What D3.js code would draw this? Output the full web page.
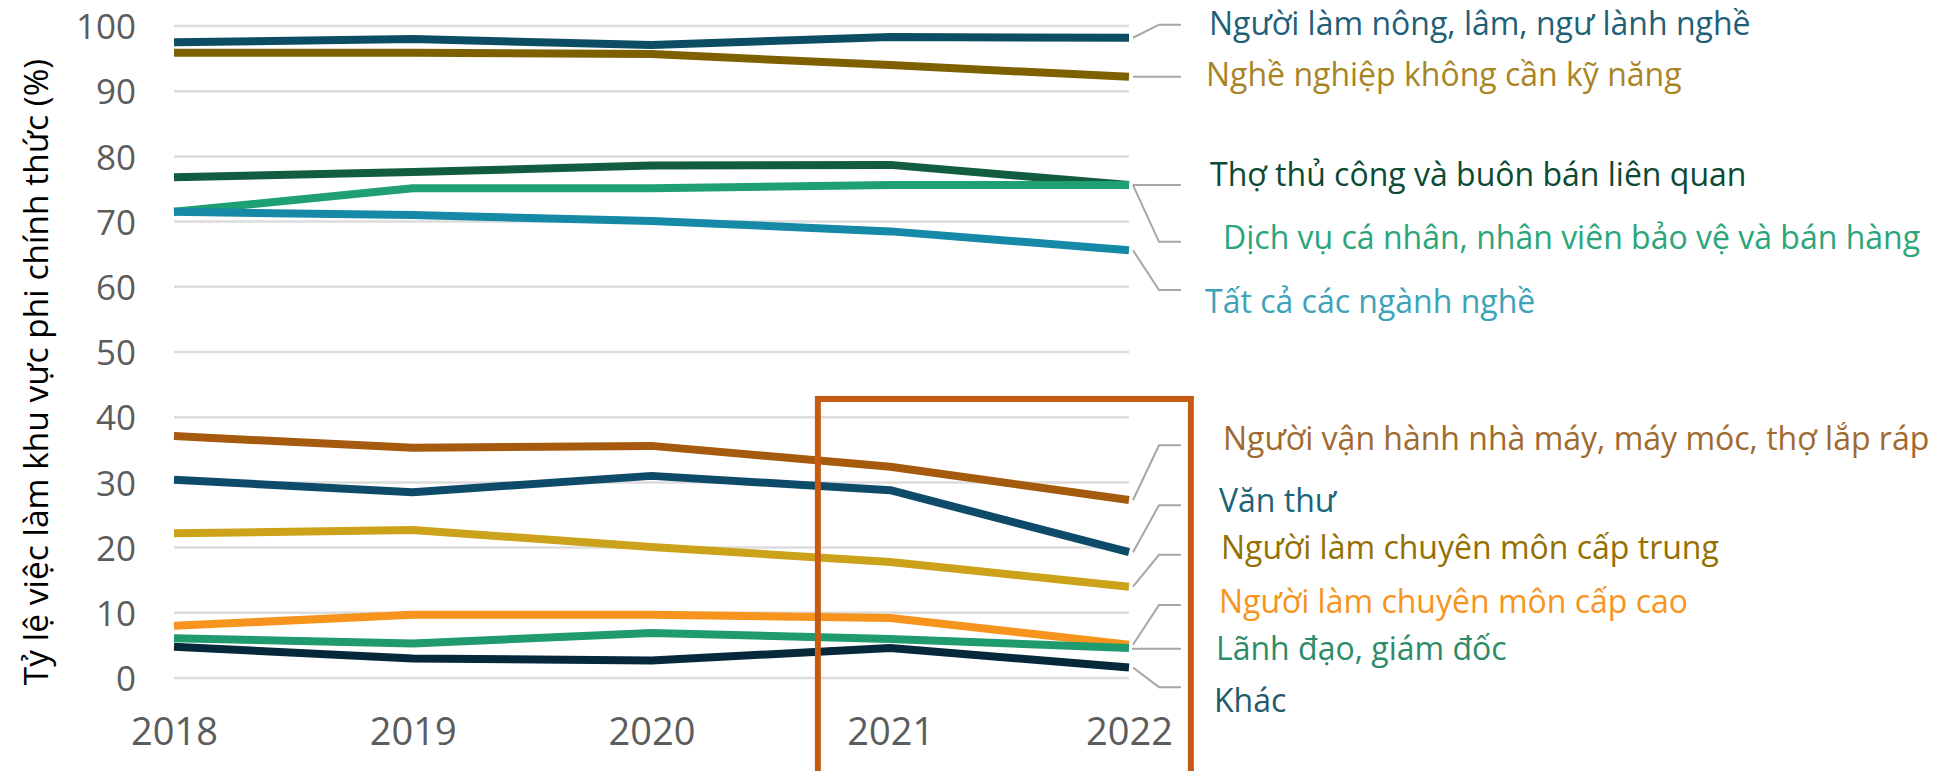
<!DOCTYPE html>
<html>
<head>
<meta charset="utf-8">
<script src="https://cdn.jsdelivr.net/npm/d3@7"></script>
<style>
  html, body { margin: 0; padding: 0; background: #fff; }
  svg { display: block; }
  text { font-family: "Open Sans", "Noto Sans", sans-serif; }
</style>
</head>
<body>
<div id="chart"></div>
<script>
// năm
const years = [2018, 2019, 2020, 2021, 2022];

// tên nhóm nghề (theo thứ tự nhãn bên phải)
const series = [
    'Người làm nông, lâm, ngư lành nghề',
    'Nghề nghiệp không cần kỹ năng',
    'Thợ thủ công và buôn bán liên quan',
    'Dịch vụ cá nhân, nhân viên bảo vệ và bán hàng',
    'Tất cả các ngành nghề',
    'Người vận hành nhà máy, máy móc, thợ lắp ráp',
    'Văn thư',
    'Người làm chuyên môn cấp trung',
    'Người làm chuyên môn cấp cao',
    'Lãnh đạo, giám đốc',
    'Khác'
];

// tỷ lệ việc làm phi chính thức (%), 2018 -> 2022
const nongLamNgu   = [97.5, 98.0, 97.1, 98.3, 98.2];
const khongKyNang  = [95.9, 95.9, 95.7, 94.0, 92.2];
const thoThuCong   = [76.8, 77.6, 78.6, 78.7, 75.6];
const dichVu       = [71.5, 75.1, 75.1, 75.6, 75.6];
const tatCa        = [71.5, 71.0, 70.1, 68.5, 65.6];
const vanHanh      = [37.1, 35.3, 35.6, 32.4, 27.3];
const vanThu       = [30.4, 28.5, 31.0, 28.8, 19.3];
const capTrung     = [22.2, 22.7, 20.1, 17.8, 14.0];
const capCao       = [ 8.0,  9.7,  9.7,  9.2,  5.1];
const lanhDao      = [ 6.1,  5.3,  6.9,  6.0,  4.6];
const khac         = [ 4.8,  3.0,  2.7,  4.6,  1.6];

const values = [nongLamNgu, khongKyNang, thoThuCong, dichVu, tatCa,
    vanHanh, vanThu, capTrung, capCao, lanhDao, khac];

const yTicks = [0, 10, 20, 30, 40, 50, 60, 70, 80, 90, 100];

// màu đường và màu chữ nhãn
const lineColors = ['#0d4d63', '#7f6000', '#125c40', '#1fa072', '#1689a6',
    '#a55a0e', '#0e4a69', '#cba21a', '#f7941d', '#1f9b6e', '#05283a'];
const labelColors = ['#1f5f78', '#a98424', '#0b4a33', '#2ba57a', '#3ca3b8',
    '#a0692e', '#1c6479', '#957000', '#f7941d', '#2e8b6a', '#245a6b'];

// vị trí nhãn (đơn vị giá trị trục y) và khoảng lệch ngang
const leaderAt = [100.2, 92.2, 75.6, 66.9, 59.5, 35.7, 26.5, 18.9, 11.2, 4.5, -1.4];
const labelBase = [98.6, 90.8, 75.4, 65.8, 56.0, 35.0, 25.5, 18.2, 10.0, 2.7, -5.2];
const labelDx = [80, 77, 81, 94, 76, 94, 90, 92, 90, 87, 85];

const W = 1944, H = 771;
const svg = d3.select('#chart').append('svg')
    .attr('width', W)
    .attr('height', H);

const x = d3.scalePoint().domain(years).range([174, 1129]);
const y = d3.scaleLinear().domain([0, 100]).range([678, 26]);

// lưới ngang
svg.append('g')
    .selectAll('line')
    .data(yTicks)
    .enter()
    .append('line')
    .attr('x1', x(2018))
    .attr('x2', x(2022))
    .attr('y1', d => y(d))
    .attr('y2', d => y(d))
    .attr('stroke', '#dcdcdc')
    .attr('stroke-width', 2.5);

// trục y
const yAxis = svg.append('g')
    .attr('transform', 'translate(' + 136 + ',0)')
    .call(d3.axisLeft(y).tickValues(yTicks).tickSize(0).tickPadding(0));
yAxis.select('.domain').remove();
yAxis.selectAll('text')
    .attr('fill', '#5c5c5c')
    .style('font-size', '35px')
    .attr('dy', '0.36em');

// trục x
const xAxis = svg.append('g')
    .attr('transform', 'translate(0,' + 745 + ')')
    .call(d3.axisBottom(x).tickSize(0).tickPadding(0));
xAxis.select('.domain').remove();
xAxis.selectAll('text')
    .attr('fill', '#5c5c5c')
    .style('font-size', '38px')
    .attr('dy', 0);

// tiêu đề trục y
svg.append('text')
    .attr('transform', 'translate(48,372) rotate(-90)')
    .attr('text-anchor', 'middle')
    .attr('fill', '#000')
    .style('font-size', '33.5px')
    .text('Tỷ lệ việc làm khu vực phi chính thức (%)');

// đường
const line = d3.line()
    .x((d, i) => x(years[i]))
    .y(d => y(d));

svg.append('g')
    .selectAll('path.line')
    .data(values)
    .enter()
    .append('path')
    .attr('class', 'line')
    .attr('d', d => line(d))
    .attr('fill', 'none')
    .attr('stroke', (d, i) => lineColors[i])
    .attr('stroke-width', 8)
    .attr('stroke-linejoin', 'round');

// đường dẫn nhãn
const xEnd = x(2022);
svg.append('g')
    .selectAll('polyline')
    .data(values)
    .enter()
    .append('polyline')
    .attr('points', (d, i) => {
        const y0 = y(d[d.length - 1]);
        const y1 = y(leaderAt[i]);
        const ex = Math.abs(y1 - y0) < 4 ? xEnd + 4 : xEnd + 30;
        return [[xEnd + 4, y0], [ex, y1], [xEnd + 52, y1]].join(' ');
    })
    .attr('fill', 'none')
    .attr('stroke', '#a6a6a6')
    .attr('stroke-width', 2);

// khung nhấn mạnh 2021-2022
svg.append('rect')
    .attr('x', (x(2020) + x(2021)) / 2 + 47)
    .attr('y', y(42.8))
    .attr('width', 373)
    .attr('height', 420)
    .attr('fill', 'none')
    .attr('stroke', '#c55a11')
    .attr('stroke-width', 6);

// nhãn
svg.append('g')
    .selectAll('text')
    .data(series)
    .enter()
    .append('text')
    .attr('x', (d, i) => xEnd + labelDx[i])
    .attr('y', (d, i) => y(labelBase[i]))
    .attr('fill', (d, i) => labelColors[i])
    .style('font-size', '32px')
    .text(d => d);
</script>
</body>
</html>
